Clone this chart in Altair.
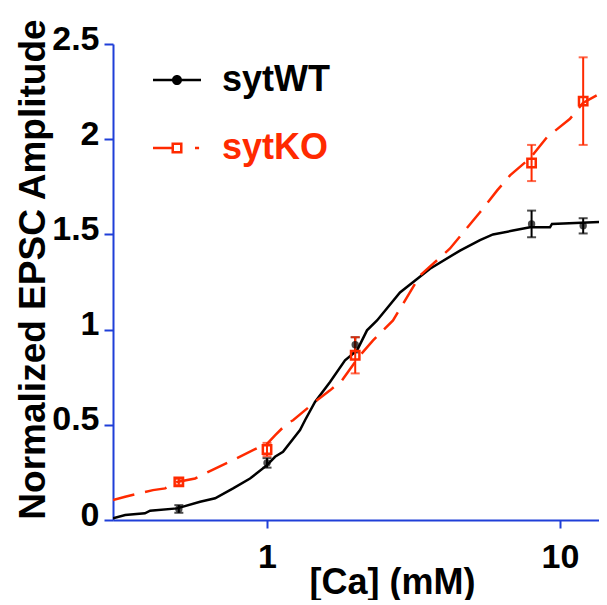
import altair as alt
import pandas as pd

# ---------------- data ----------------
conc = [0.5, 1, 2, 8, 12]
wt_mean = [0.058, 0.30, 0.92, 1.555, 1.545]
wt_err = [0.02, 0.025, 0.04, 0.07, 0.04]
ko_mean = [0.20, 0.37, 0.865, 1.875, 2.20]
ko_err = [0.015, 0.035, 0.095, 0.095, 0.23]

wt_fit_x = [0.298, 0.328, 0.383, 0.399, 0.493, 0.591, 0.665, 0.766, 0.875, 1.0,
            1.065, 1.134, 1.296, 1.348, 1.458, 1.641, 1.846, 2.029, 2.194, 2.374,
            2.844, 3.600, 4.558, 5.333, 5.906, 6.912, 7.902, 9.245, 9.391, 14.47]
wt_fit_y = [0.009, 0.026, 0.035, 0.049, 0.061, 0.096, 0.114, 0.166, 0.218, 0.288,
            0.332, 0.358, 0.472, 0.524, 0.620, 0.725, 0.839, 0.891, 0.996, 1.048,
            1.195, 1.320, 1.415, 1.470, 1.500, 1.520, 1.537, 1.537, 1.555, 1.567]

ko_fit_x = [0.298, 0.328, 0.408, 0.449, 0.493, 0.568, 0.665, 0.766, 0.969, 1.0,
            1.065, 1.170, 1.227, 1.481, 1.641, 1.803, 2.077, 2.301, 2.692, 3.329,
            4.214, 5.333, 6.095, 6.753, 7.902, 9.028, 10.82, 11.98, 14.47]
ko_fit_y = [0.105, 0.122, 0.157, 0.166, 0.200, 0.218, 0.270, 0.314, 0.393, 0.400,
            0.445, 0.507, 0.524, 0.629, 0.681, 0.734, 0.865, 0.943, 1.048, 1.284,
            1.426, 1.616, 1.730, 1.810, 1.900, 2.010, 2.107, 2.190, 2.260]

x_ticks = [1, 10]
y_ticks = [0, 0.5, 1, 1.5, 2, 2.5]
series = ["sytWT", "sytKO"]

# ---------------- styling ----------------
FONT = "Liberation Sans"
BLACK = "#000000"
RED = "#ff2a00"
BLUE = "#1f3fd8"

WT_PATH = ("M-1,-0.05H-0.2V0.05H-1Z "
           "M0.2,-0.05H1V0.05H0.2Z "
           "M-0.21,0A0.21,0.21 0 1,1 0.21,0A0.21,0.21 0 1,1 -0.21,0Z")
KO_PATH = ("M-1,-0.05H-0.23V0.05H-1Z "
           "M-0.23,-0.23H0.23V0.23H-0.23Z "
           "M-0.125,-0.125V0.125H0.125V-0.125Z "
           "M0.75,-0.05H0.92V0.05H0.75Z")

wt_pts = pd.DataFrame({"x": conc, "y": wt_mean,
                       "lo": [m - e for m, e in zip(wt_mean, wt_err)],
                       "hi": [m + e for m, e in zip(wt_mean, wt_err)]})
ko_pts = pd.DataFrame({"x": conc, "y": ko_mean,
                       "lo": [m - e for m, e in zip(ko_mean, ko_err)],
                       "hi": [m + e for m, e in zip(ko_mean, ko_err)]})
wt_fit = pd.DataFrame({"x": wt_fit_x, "y": wt_fit_y})
ko_fit = pd.DataFrame({"x": ko_fit_x, "y": ko_fit_y})

xscale = alt.Scale(type="log", domain=[0.298, 13.59], nice=False)
yscale = alt.Scale(domain=[0, 2.5], nice=False)

xaxis = alt.Axis(values=x_ticks, format="~g", title="[Ca] (mM)", grid=False,
                 domainColor=BLUE, domainWidth=2, tickColor=BLUE, tickWidth=2,
                 tickSize=8, labelFont=FONT, labelFontSize=34, labelFontWeight="bold",
                 labelColor=BLACK, labelBaseline="alphabetic", labelPadding=39,
                 labelFlush=False, labelOverlap=False,
                 titleFont=FONT, titleFontSize=36, titleFontWeight="bold",
                 titleColor=BLACK, titleX=279, titleY=73, titleBaseline="alphabetic",
                 titleAlign="center")
yaxis = alt.Axis(values=y_ticks, format="~g", title="Normalized EPSC Amplitude",
                 grid=False, domainColor=BLUE, domainWidth=2, tickColor=BLUE,
                 tickWidth=2, tickSize=9, labelFont=FONT, labelFontSize=34,
                 labelFontWeight="bold", labelColor=BLACK, labelBaseline="alphabetic",
                 labelOffset=5, labelPadding=5, labelFlush=False, labelOverlap=False,
                 titleFont=FONT, titleFontSize=37, titleFontWeight="bold",
                 titleColor=BLACK, titleAngle=270, titleX=-69, titleY=225,
                 titleAlign="center", titleBaseline="alphabetic")

X = alt.X("x:Q", scale=xscale, axis=xaxis)
Y = alt.Y("y:Q", scale=yscale, axis=yaxis)

wt_line = alt.Chart(wt_fit).mark_line(color=BLACK, strokeWidth=2.5, clip=True).encode(x=X, y=Y)
ko_line = alt.Chart(ko_fit).mark_line(color=RED, strokeWidth=2.5, strokeDash=[22, 11],
                                      clip=True).encode(x=X, y=Y)


def errbars(df, color):
    rule = alt.Chart(df).mark_rule(color=color, strokeWidth=2).encode(
        x="x:Q", y="lo:Q", y2="hi:Q")
    top = alt.Chart(df).mark_tick(color=color, orient="horizontal", size=9,
                                  thickness=2).encode(x="x:Q", y="hi:Q")
    bot = alt.Chart(df).mark_tick(color=color, orient="horizontal", size=9,
                                  thickness=2).encode(x="x:Q", y="lo:Q")
    return [rule, top, bot]


wt_marks = alt.Chart(wt_pts).mark_point(shape="circle", filled=True, color=BLACK,
                                        size=55).encode(x="x:Q", y="y:Q")
ko_marks = alt.Chart(ko_pts).mark_point(shape="square", filled=False, color=RED,
                                        strokeWidth=2.5, size=70, opacity=1).encode(
    x="x:Q", y="y:Q")


def legend_layer(name, path, color, ly):
    df = pd.DataFrame({"series": [name], "x": [None], "y": [None]})
    return alt.Chart(df).mark_point(filled=True, color=color, strokeWidth=0).encode(
        x="x:Q", y="y:Q",
        shape=alt.Shape("series:N",
                        scale=alt.Scale(domain=[name], range=[path]),
                        legend=alt.Legend(orient="none", legendX=40, legendY=ly,
                                          title=None, labelColor=color,
                                          labelFont=FONT, labelFontSize=36,
                                          labelFontWeight="bold", labelOffset=21,
                                          symbolSize=2304, symbolFillColor=color,
                                          symbolStrokeWidth=0, symbolOpacity=1,
                                          padding=0)))


leg_wt = legend_layer(series[0], WT_PATH, BLACK, 12)
leg_ko = legend_layer(series[1], KO_PATH, RED, 80)

chart = alt.layer(
    wt_line, ko_line,
    *errbars(wt_pts, BLACK), *errbars(ko_pts, RED),
    wt_marks, ko_marks, leg_wt, leg_ko
).resolve_scale(shape="independent").resolve_legend(shape="independent").properties(
    width=486, height=476,
    autosize=alt.AutoSizeParams(type="none"),
    padding={"left": 105, "top": 36, "right": 0, "bottom": 80},
    background="white"
).configure_view(stroke=None)

chart.save("out.html", embed_options={"renderer": "svg", "actions": False})
